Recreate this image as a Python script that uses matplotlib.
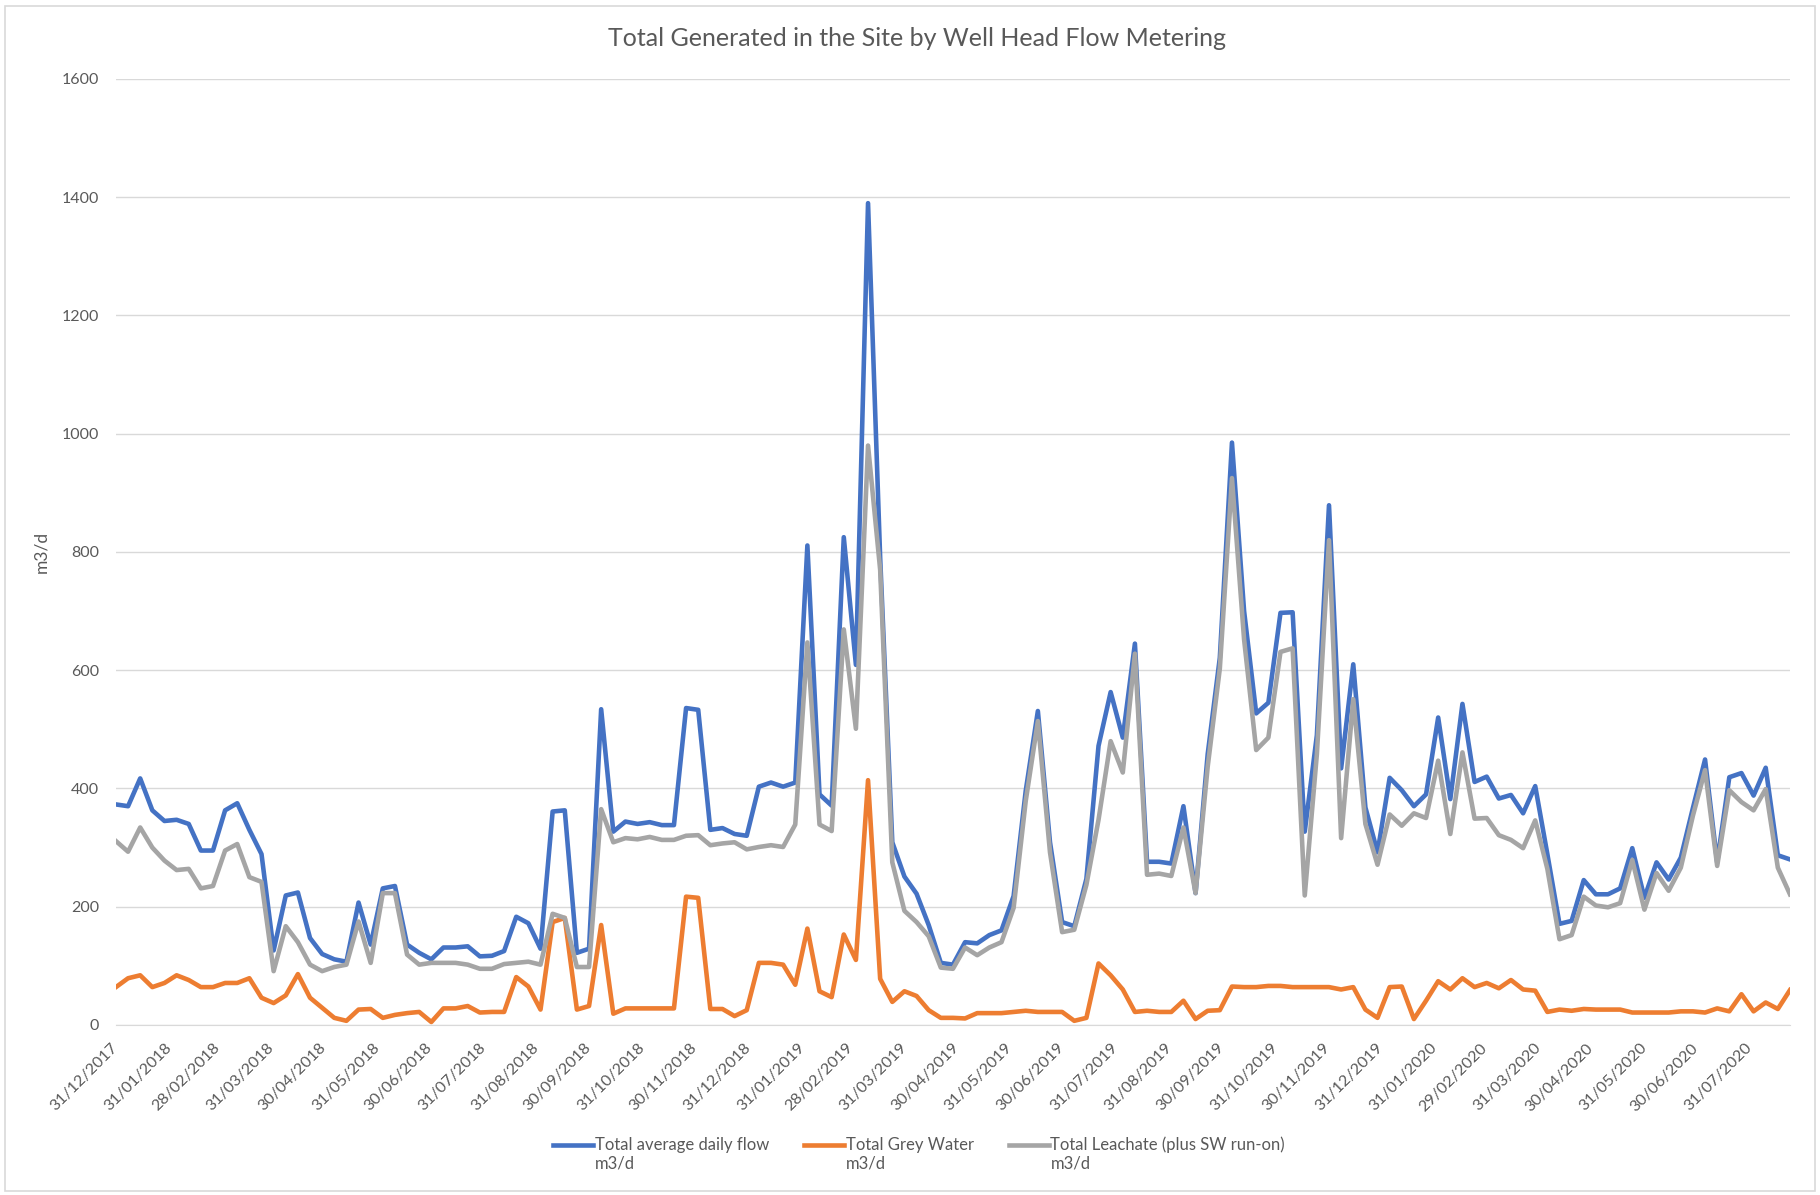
import matplotlib
matplotlib.use('Agg')
import matplotlib.pyplot as plt
import matplotlib.dates as mdates
from matplotlib.patches import Rectangle
from matplotlib.legend_handler import HandlerLine2D
import pandas as pd

plt.rcParams['font.family'] = ['Lato', 'DejaVu Sans']

# Weekly readings, m3/d
total_flow = [373, 370, 417, 363, 345, 347, 340, 295, 295, 363, 375, 330, 289, 126, 219, 224, 147, 120, 111, 107,
              207, 136, 231, 235, 136, 122, 111, 131, 131, 133, 116, 117, 125, 183, 172, 129, 361, 363, 122, 129,
              534, 327, 344, 340, 343, 338, 338, 536, 533, 330, 333, 323, 320, 403, 410, 403, 410, 811, 390, 371,
              825, 609, 1390, 790, 309, 251, 222, 169, 105, 102, 140, 138, 152, 160, 218, 396, 531, 309, 174, 167,
              247, 472, 563, 486, 645, 276, 276, 273, 370, 223, 458, 621, 985, 700, 527, 545, 697, 698, 327, 490,
              879, 434, 610, 368, 292, 418, 397, 370, 390, 520, 382, 543, 411, 420, 383, 389, 358, 404, 289, 171,
              176, 245, 221, 221, 231, 299, 215, 275, 246, 283, 367, 449, 275, 419, 426, 388, 435, 287, 280]

grey_water = [64, 79, 84, 64, 71, 84, 76, 64, 64, 71, 71, 79, 46, 37, 50, 86, 46, 29, 12, 7,
              26, 27, 12, 17, 20, 22, 5, 28, 28, 32, 21, 22, 22, 81, 65, 26, 174, 181, 26, 32,
              169, 19, 28, 28, 28, 28, 28, 217, 215, 27, 27, 15, 25, 105, 105, 102, 68, 163, 57, 47,
              153, 110, 414, 78, 39, 57, 49, 25, 12, 12, 11, 20, 20, 20, 22, 24, 22, 22, 22, 7,
              12, 104, 84, 60, 22, 24, 22, 22, 41, 10, 24, 25, 65, 64, 64, 66, 66, 64, 64, 64,
              64, 60, 64, 26, 12, 64, 65, 10, 41, 74, 60, 79, 64, 71, 62, 76, 60, 58, 22, 26,
              24, 27, 26, 26, 26, 21, 21, 21, 21, 23, 23, 21, 28, 23, 52, 23, 38, 27, 59]

leachate = [311, 293, 334, 300, 278, 262, 264, 231, 235, 295, 306, 250, 242, 91, 167, 140, 102, 91, 98, 102,
            175, 105, 223, 223, 119, 102, 105, 105, 105, 102, 95, 95, 103, 105, 107, 102, 188, 181, 98, 98,
            365, 309, 316, 314, 318, 313, 313, 320, 321, 304, 307, 309, 297, 301, 304, 301, 339, 647, 339, 328,
            669, 501, 980, 770, 275, 193, 174, 150, 97, 95, 131, 118, 131, 140, 198, 379, 514, 292, 157, 161,
            237, 347, 480, 427, 628, 254, 256, 252, 334, 223, 437, 603, 925, 652, 465, 486, 631, 637, 219, 458,
            820, 316, 551, 340, 271, 356, 337, 358, 350, 447, 323, 461, 349, 350, 321, 313, 299, 346, 264, 145,
            152, 217, 202, 199, 206, 279, 195, 257, 227, 266, 354, 431, 269, 397, 377, 363, 399, 266, 221]

dates = pd.date_range('2017-12-31', periods=len(total_flow), freq='7D')
month_ticks = pd.date_range('2017-12-31', '2020-07-31', freq='ME')

labels = ['Total average daily flow\nm3/d', 'Total Grey Water\nm3/d', 'Total Leachate (plus SW run-on)\nm3/d']
colors = ['#4472C4', '#ED7D31', '#A5A5A5']


class FirstLineHandler(HandlerLine2D):
    # put the legend line level with the first line of a two-line label
    def create_artists(self, legend, orig_handle, xdescent, ydescent, width, height, fontsize, trans):
        artists = super().create_artists(legend, orig_handle, xdescent, ydescent,
                                         width, height, fontsize, trans)
        for a in artists:
            a.set_ydata([y + 0.6 * fontsize for y in a.get_ydata()])
        return artists


fig = plt.figure(figsize=(18.2, 11.95), dpi=100)
ax = fig.add_axes([0.0637, 0.1423, 0.9198, 0.7916])

# chart border
fig.patches.append(Rectangle((0.003, 0.003), 0.994, 0.992, transform=fig.transFigure,
                             fill=False, edgecolor='#D9D9D9', linewidth=1.2))

for series, lab, col in zip([total_flow, grey_water, leachate], labels, colors):
    ax.plot(dates, series, color=col, linewidth=3.3, label=lab, solid_joinstyle='round')

ax.set_xlim(dates[0], dates[-1])
ax.set_ylim(0, 1600)
ax.set_yticks(range(0, 1601, 200))
ax.set_xticks(month_ticks)
ax.xaxis.set_major_formatter(mdates.DateFormatter('%d/%m/%Y'))
plt.setp(ax.get_xticklabels(), rotation=45, ha='right', va='center', rotation_mode='anchor')

ax.grid(axis='y', color='#D9D9D9', linewidth=1)
ax.set_axisbelow(True)
for side in ['top', 'left', 'right']:
    ax.spines[side].set_visible(False)
ax.spines['bottom'].set_color('#D9D9D9')
ax.tick_params(axis='both', length=0, labelsize=11.5, labelcolor='#595959')
ax.tick_params(axis='y', pad=12)
ax.tick_params(axis='x', pad=15)

fig.text(0.504, 0.968, 'Total Generated in the Site by Well Head Flow Metering',
         fontsize=18, color='#595959', ha='center', va='center')
ax.set_ylabel('m3/d', fontsize=12.5, color='#595959', labelpad=9)

fig.legend(loc='center', bbox_to_anchor=(0.505, 0.034), ncol=3, frameon=False,
           fontsize=12, labelcolor='#595959', handlelength=2.4, columnspacing=2.1, handletextpad=0.1,
           handler_map={matplotlib.lines.Line2D: FirstLineHandler()})

fig.savefig('out.png', dpi=100)
